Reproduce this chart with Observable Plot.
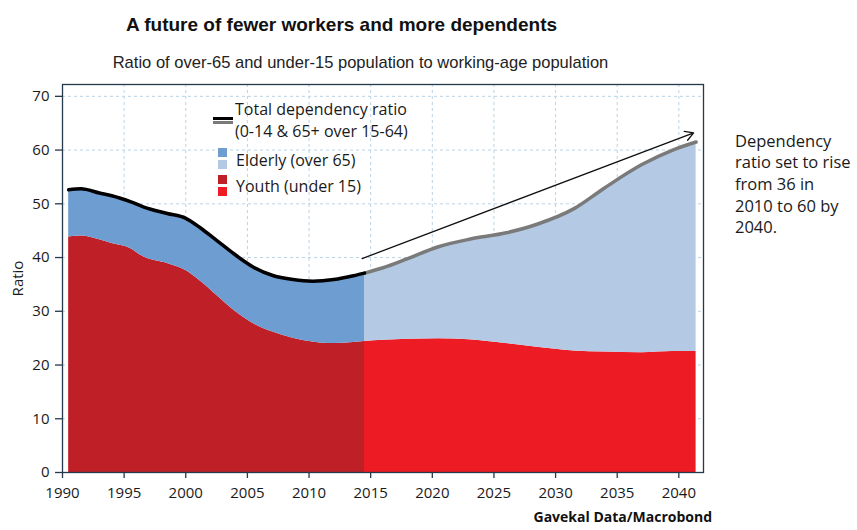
<!DOCTYPE html>
<html><head><meta charset="utf-8">
<script src="https://cdn.jsdelivr.net/npm/d3@7"></script>
<script src="https://cdn.jsdelivr.net/npm/@observablehq/plot@0.6"></script>
<style>
body{margin:0;background:#fff;}
#wrap{position:relative;width:857px;height:530px;overflow:hidden;font-family:"Open Sans",sans-serif;color:#1a1a1a}
.abs{position:absolute;white-space:nowrap}
#title{left:0;width:683px;top:12px;text-align:center;font-family:"Liberation Sans",Arial,sans-serif;font-weight:bold;font-size:19px;line-height:26px;color:#111}
#subtitle{left:0;width:721px;top:50.5px;text-align:center;font-family:"Liberation Sans",Arial,sans-serif;font-size:17px;line-height:24px;color:#222;transform:scaleX(0.973);transform-origin:center}
#chart{position:absolute;left:0;top:76px}
.leg{font-size:16px;line-height:20px;color:#1a1a1a}
.sw{position:absolute}
#note{left:735px;top:129.5px;font-size:16.5px;line-height:21.7px;color:#1a1a1a}
#source{right:145px;top:507px;font-weight:bold;font-size:14px;line-height:20px;color:#111}
</style></head>
<body>
<div id="wrap">
  <div id="title" class="abs">A future of fewer workers and more dependents</div>
  <div id="subtitle" class="abs">Ratio of over-65 and under-15 population to working-age population</div>
  <div id="chart"></div>
  <div class="sw" style="left:213px;top:117px;width:20px;height:3px;background:#000"></div>
  <div class="sw" style="left:213px;top:120.5px;width:20px;height:3px;background:#7a7a7a"></div>
  <div class="sw" style="left:218px;top:148px;width:9px;height:9px;background:#6d9dd1"></div>
  <div class="sw" style="left:218px;top:159.5px;width:9px;height:9px;background:#b4c9e3"></div>
  <div class="sw" style="left:218px;top:175px;width:9px;height:9px;background:#bf1f26"></div>
  <div class="sw" style="left:218px;top:186.5px;width:9px;height:9px;background:#ed1c24"></div>
  <div class="abs leg" style="left:235px;top:98.8px">Total dependency ratio</div>
  <div class="abs leg" style="left:235px;top:120.5px">(0-14 &amp; 65+ over 15-64)</div>
  <div class="abs leg" style="left:236px;top:149.8px">Elderly (over 65)</div>
  <div class="abs leg" style="left:236px;top:175.5px">Youth (under 15)</div>
  <div id="note" class="abs">Dependency<br>ratio set to rise<br>from 36 in<br>2010 to 60 by<br>2040.</div>
  <div id="source" class="abs">Gavekal Data/Macrobond</div>
</div>
<script>
// Historical (to 2014.5)
const histYears = [1990.5, 1991.5, 1993, 1994, 1995.5, 1996.6, 1998.5, 2000, 2001.2, 2002.5, 2003.9, 2005.5, 2007, 2008.7, 2010.3, 2012, 2013.6, 2014.5];
const histTotal = [52.6, 52.8, 52.0, 51.5, 50.4, 49.4, 48.2, 47.3, 45.5, 43.2, 40.7, 38.2, 36.7, 35.9, 35.6, 35.9, 36.6, 37.1];
const histYouth = [43.8, 44.0, 43.3, 42.6, 41.7, 40.1, 38.9, 37.6, 35.6, 33.0, 30.2, 27.7, 26.2, 25.0, 24.3, 24.0, 24.2, 24.4];
// Projection (2014.5 onwards)
const projYears = [2014.5, 2016, 2018, 2020.5, 2023, 2026, 2028.5, 2031.5, 2034, 2037, 2039.5, 2041.4];
const projTotal = [37.1, 38.1, 39.8, 42.0, 43.4, 44.6, 46.2, 49.1, 53.0, 57.3, 60.0, 61.5];
const projYouth = [24.4, 24.6, 24.8, 24.9, 24.7, 24.0, 23.3, 22.6, 22.4, 22.3, 22.5, 22.5];
// Trend arrow
const arrowFrom = [2014.3, 39.8];
const arrowTo = [2041.2, 63.2];
// Axes
const xTicks = [1990, 1995, 2000, 2005, 2010, 2015, 2020, 2025, 2030, 2035, 2040];
const yTicks = [0, 10, 20, 30, 40, 50, 60, 70];

const hist = histYears.map((year, i) => ({year, total: histTotal[i], youth: histYouth[i]}));
const proj = projYears.map((year, i) => ({year, total: projTotal[i], youth: projYouth[i]}));
const arrows = [{x1: arrowFrom[0], y1: arrowFrom[1], x2: arrowTo[0], y2: arrowTo[1]}];

const curve = "monotone-x";
const axisColor = "#25394a";
const gridColor = "#b9d3e6";

const chart = Plot.plot({
  width: 857,
  height: 429,
  marginLeft: 62,
  marginRight: 154,
  marginTop: 8,
  marginBottom: 33,
  style: {fontFamily: "'Open Sans', sans-serif", fontSize: "15px", color: "#1a1a1a", background: "transparent"},
  x: {domain: [1990, 2042]},
  y: {domain: [0, 72.2]},
  marks: [
    Plot.gridX(xTicks, {stroke: gridColor, strokeOpacity: 1, strokeDasharray: "3,3"}),
    Plot.gridY(yTicks, {stroke: gridColor, strokeOpacity: 1, strokeDasharray: "3,3"}),
    Plot.areaY(hist, {x: "year", y1: 0, y2: "youth", fill: "#bf1f26", curve}),
    Plot.areaY(hist, {x: "year", y1: "youth", y2: "total", fill: "#6d9dd1", curve}),
    Plot.areaY(proj, {x: "year", y1: 0, y2: "youth", fill: "#ed1c24", curve}),
    Plot.areaY(proj, {x: "year", y1: "youth", y2: "total", fill: "#b4c9e3", curve}),
    Plot.lineY(proj, {x: "year", y: "total", stroke: "#7a7a7a", strokeWidth: 3.5, curve}),
    Plot.lineY(hist, {x: "year", y: "total", stroke: "#000", strokeWidth: 3.5, curve}),
    Plot.arrow(arrows, {x1: "x1", y1: "y1", x2: "x2", y2: "y2", stroke: "#111", strokeWidth: 1.3, headLength: 11, bend: 0}),
    Plot.frame({stroke: axisColor, strokeWidth: 1.3}),
    Plot.axisX(xTicks, {tickSize: 6, tickPadding: 9, stroke: axisColor, strokeWidth: 1.3, tickFormat: d => String(d), label: null}),
    Plot.axisY(yTicks, {tickSize: 7, tickPadding: 6, stroke: axisColor, strokeWidth: 1.3, label: "Ratio", labelAnchor: "center", labelOffset: 50, labelArrow: "none"})
  ]
});
document.getElementById("chart").appendChild(chart);
</script>
</body></html>
